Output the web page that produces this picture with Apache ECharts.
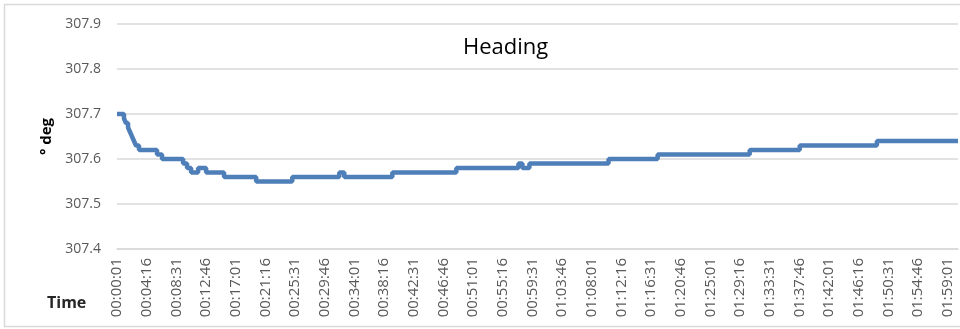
<!DOCTYPE html>
<html>
<head>
<meta charset="utf-8">
<title>Heading</title>
<script src="https://cdn.jsdelivr.net/npm/echarts@6/dist/echarts.min.js"></script>
<style>
  html, body { margin: 0; padding: 0; background: #fff; }
  #chart { width: 960px; height: 329px; }
</style>
</head>
<body>
<div id="chart"></div>
<script>
// times (hh:mm:ss) where the heading changes, and the value from that time on
const changeTimes = [
  '00:00:01', '00:01:01', '00:01:18', '00:01:36', '00:01:53', '00:02:10',
  '00:02:27', '00:02:44', '00:03:10', '00:05:45', '00:06:28', '00:09:29',
  '00:10:03', '00:10:38', '00:11:38', '00:12:47', '00:15:21', '00:19:57',
  '00:25:07', '00:31:51', '00:32:34', '00:39:27', '00:48:37', '00:57:31',
  '00:58:05', '00:59:05', '01:10:25', '01:17:27', '01:30:38', '01:37:48',
  '01:48:51', '02:00:28'
]
const headingValues = [
  307.70, 307.69, 307.68, 307.67, 307.66, 307.65,
  307.64, 307.63, 307.62, 307.61, 307.60, 307.59,
  307.58, 307.57, 307.58, 307.57, 307.56, 307.55,
  307.56, 307.57, 307.56, 307.57, 307.58, 307.59,
  307.58, 307.59, 307.60, 307.61, 307.62, 307.63,
  307.64, 307.64
]
const startTime = '00:00:01'
const labelStepSec = 255   // 00:04:15 between time labels
const yTicks = [307.4, 307.5, 307.6, 307.7, 307.8, 307.9]

const toSec = s => {
  const [h, m, sec] = s.split(':').map(Number)
  return h * 3600 + m * 60 + sec
}
const pad = n => String(n).padStart(2, '0')
const toClock = sec => pad(Math.floor(sec / 3600)) + ':' + pad(Math.floor(sec / 60) % 60) + ':' + pad(sec % 60)

const t0 = toSec(startTime)
const seriesData = changeTimes.map((t, i) => [toSec(t) - t0, headingValues[i]])

const chart = echarts.init(document.getElementById('chart'))

const option = {
  animation: false,
  textStyle: { fontFamily: 'Open Sans' },
  title: [
    {
      text: 'Heading',
      left: 458,
      top: 32,
      textStyle: { fontSize: 22, fontWeight: 'normal', color: '#000', fontFamily: 'Open Sans' }
    },
    {
      text: 'Time',
      left: 42,
      top: 290,
      textStyle: { fontSize: 16, fontWeight: 'bold', color: '#262626', fontFamily: 'Open Sans' }
    }
  ],
  graphic: [
    {
      type: 'rect',
      shape: { x: 4.5, y: 4.5, width: 970, height: 322 },
      style: { fill: 'none', stroke: '#d9d9d9', lineWidth: 1.5 },
      silent: true
    }
  ],
  grid: {
    left: 117,
    right: 2,
    top: 24,
    bottom: 80
  },
  xAxis: {
    type: 'value',
    min: 0,
    max: seriesData[seriesData.length - 1][0],
    interval: labelStepSec,
    axisLine: { show: true, lineStyle: { color: '#d9d9d9', width: 1.5 } },
    axisTick: { show: false },
    splitLine: { show: false },
    axisLabel: {
      rotate: 90,
      margin: 9,
      color: '#595959',
      fontSize: 15,
      fontFamily: 'Open Sans',
      showMaxLabel: false,
      formatter: v => toClock(v + t0)
    }
  },
  yAxis: {
    type: 'value',
    min: yTicks[0],
    max: yTicks[yTicks.length - 1],
    interval: 0.1,
    name: '° deg',
    nameLocation: 'middle',
    nameRotate: 90,
    nameGap: 60,
    nameTextStyle: { fontSize: 15, fontWeight: 'bold', color: '#000', fontFamily: 'Open Sans' },
    axisLine: { show: false },
    axisTick: { show: false },
    splitLine: { lineStyle: { color: '#d9d9d9', width: 1.5 } },
    axisLabel: {
      margin: 16,
      color: '#595959',
      fontSize: 14,
      fontFamily: 'Open Sans',
      formatter: v => v.toFixed(1)
    }
  },
  series: [
    {
      name: 'Heading',
      type: 'line',
      step: 'end',
      showSymbol: false,
      data: seriesData,
      lineStyle: { color: '#4f7fb9', width: 4.5 },
      itemStyle: { color: '#4f7fb9' }
    }
  ]
}

chart.setOption(option)
</script>
</body>
</html>
